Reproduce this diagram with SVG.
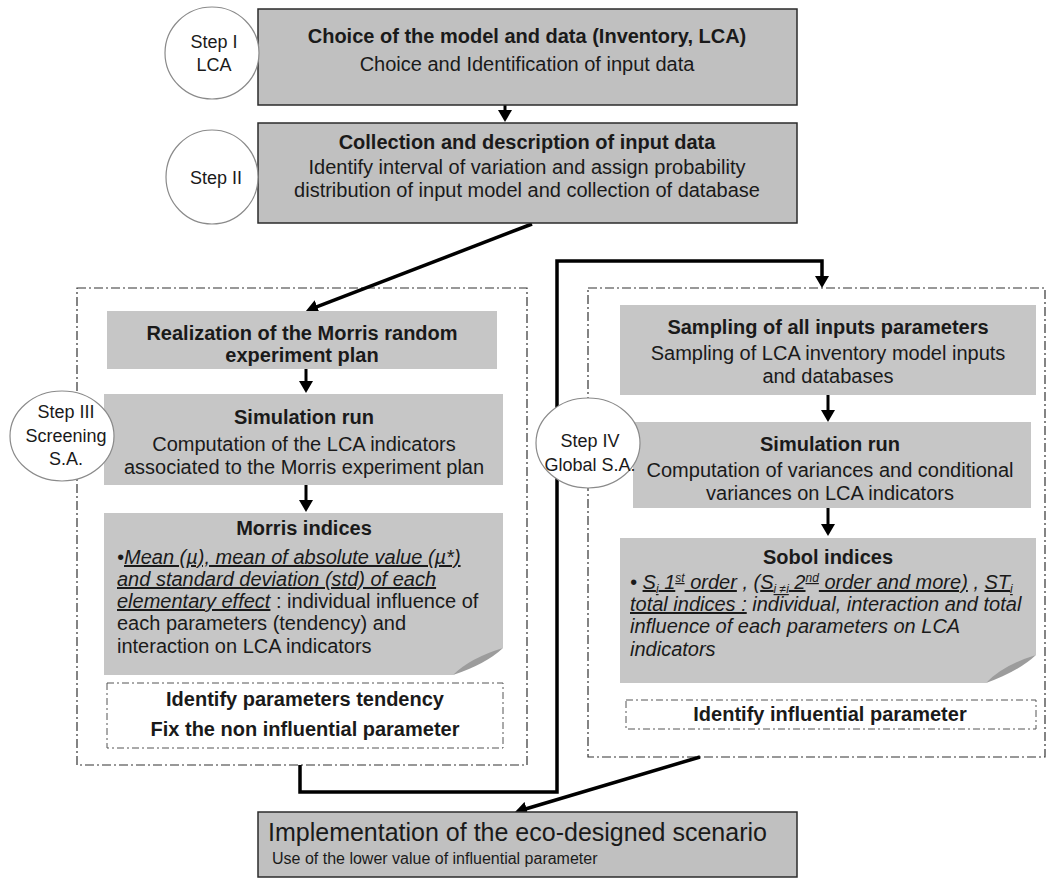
<svg xmlns="http://www.w3.org/2000/svg" width="1055" height="883" viewBox="0 0 1055 883">
<style>
.t{font-family:"Liberation Sans",Arial,sans-serif;fill:#1a1a1a;font-size:20px}
.s{font-size:18px}
.b{font-weight:bold}
.c{text-anchor:middle}
.i{font-style:italic}
.u{text-decoration:underline}
.box{fill:#c0c0c0;stroke:#2b2b2b;stroke-width:1.5}
.pb{fill:#c6c6c6}
.fold{fill:#9c9c9c}
.circ{fill:#fff;stroke:#8a8a8a;stroke-width:1.2}
.panel{fill:#fff;stroke:#333;stroke-width:1.2;stroke-dasharray:9 3 2 3}
.ibox{fill:#fff;stroke:#555;stroke-width:1;stroke-dasharray:7 3 2 3}
.conn{fill:none;stroke:#000;stroke-width:3.5}
.thin{fill:none;stroke:#000;stroke-width:3}
</style>
<defs>
<marker id="ah" markerUnits="userSpaceOnUse" markerWidth="14" markerHeight="14" refX="2" refY="7" orient="auto"><path d="M0,0 L12,7 L0,14 Z" fill="#000"/></marker>
</defs>

<g id="panel-left"><rect class="panel" x="77" y="288" width="450" height="477"/></g>
<g id="panel-right"><rect class="panel" x="588" y="288" width="457" height="469"/></g>

<g id="connectors">
<line class="thin" x1="505" y1="105" x2="505" y2="112" marker-end="url(#ah)"/>
<line class="conn" x1="532" y1="224" x2="315.3" y2="307.4" marker-end="url(#ah)"/>
<line class="thin" x1="306" y1="369" x2="306" y2="383" marker-end="url(#ah)"/>
<line class="thin" x1="306" y1="485" x2="306" y2="502" marker-end="url(#ah)"/>
<polyline class="conn" points="300,765 300,792 557,792 557,261 822,261 822,278" marker-end="url(#ah)"/>
<line class="thin" x1="828" y1="395" x2="828" y2="412" marker-end="url(#ah)"/>
<line class="thin" x1="828" y1="508" x2="828" y2="526" marker-end="url(#ah)"/>
<line class="conn" x1="700" y1="757" x2="524.6" y2="809.2" marker-end="url(#ah)"/>
</g>

<g id="box1">
<rect class="box" x="258" y="9" width="539" height="96"/>
<text class="t b c" x="527" y="43">Choice of the model and data (Inventory, LCA)</text>
<text class="t c" x="527" y="71">Choice and Identification of input data</text>
</g>
<g id="step1">
<ellipse class="circ" cx="212" cy="53" rx="47" ry="46"/>
<text class="t s c" x="214" y="48">Step I</text>
<text class="t s c" x="214" y="71">LCA</text>
</g>

<g id="box2">
<rect class="box" x="258" y="123" width="539" height="100"/>
<text class="t b c" x="527" y="149">Collection and description of input data</text>
<text class="t c" x="527" y="174">Identify interval of variation and assign probability</text>
<text class="t c" x="527" y="197">distribution of input model and collection of database</text>
</g>
<g id="step2">
<ellipse class="circ" cx="212" cy="177" rx="46" ry="47"/>
<text class="t s c" x="216" y="184">Step II</text>
</g>

<g id="realization">
<rect class="pb" x="107" y="311" width="390" height="58"/>
<text class="t b c" x="302" y="340">Realization of the Morris random</text>
<text class="t b c" x="302" y="362">experiment plan</text>
</g>

<g id="sim-left">
<rect class="pb" x="104" y="394" width="399" height="91"/>
<text class="t b c" x="304" y="424">Simulation run</text>
<text class="t c" x="304" y="451">Computation of the LCA indicators</text>
<text class="t c" x="304" y="474">associated to the Morris experiment plan</text>
</g>
<g id="step3">
<ellipse class="circ" cx="62" cy="436" rx="52" ry="45"/>
<text class="t s c" x="66" y="418">Step III</text>
<text class="t s c" x="66" y="442">Screening</text>
<text class="t s c" x="66" y="465">S.A.</text>
</g>

<g id="morris">
<path class="pb" d="M104,513 H503 V648 Q478,661 453,675 H104 Z"/>
<path class="fold" d="M453,675 Q470,658 503,648 Q486,664 453,675 Z"/>
<text class="t b c" x="304" y="535">Morris indices</text>
<text class="t i" x="117" y="564">•<tspan class="u">Mean (µ), mean of absolute value (µ*)</tspan></text>
<text class="t i" x="117" y="586"><tspan class="u">and standard deviation (std) of each</tspan></text>
<text class="t" x="117" y="608"><tspan class="i u">elementary effect</tspan> : individual influence of</text>
<text class="t" x="117" y="630">each parameters (tendency) and</text>
<text class="t" x="117" y="653">interaction on LCA indicators</text>
</g>

<g id="identify-left">
<rect class="ibox" x="107" y="683" width="396" height="65"/>
<text class="t b c" x="305" y="706">Identify parameters tendency</text>
<text class="t b c" x="305" y="736">Fix the non influential parameter</text>
</g>

<g id="sampling">
<rect class="pb" x="620" y="305" width="416" height="90"/>
<text class="t b c" x="828" y="334">Sampling of all inputs parameters</text>
<text class="t c" x="828" y="360">Sampling of LCA inventory model inputs</text>
<text class="t c" x="828" y="383">and databases</text>
</g>

<g id="sim-right">
<rect class="pb" x="633" y="422" width="398" height="86"/>
<text class="t b c" x="830" y="451">Simulation run</text>
<text class="t c" x="830" y="477">Computation of variances and conditional</text>
<text class="t c" x="830" y="500">variances on LCA indicators</text>
</g>
<g id="step4">
<ellipse class="circ" cx="588" cy="443" rx="52" ry="45"/>
<text class="t s c" x="590" y="447">Step IV</text>
<text class="t s c" x="590" y="471">Global S.A.</text>
</g>

<g id="sobol">
<path class="pb" d="M620,538 H1036 V655 Q1010,668 986,683 H620 Z"/>
<path class="fold" d="M986,683 Q1003,665 1036,655 Q1019,671 986,683 Z"/>
<text class="t b c" x="828" y="564">Sobol indices</text>
<text class="t i" x="630" y="589">• <tspan class="u">S<tspan font-size="12" dy="4">i</tspan><tspan dy="-4"> 1</tspan><tspan font-size="12" dy="-7">st</tspan><tspan dy="7"> order</tspan></tspan> , (<tspan class="u">S<tspan font-size="12" dy="4">i ≠i</tspan><tspan dy="-4">  2</tspan><tspan font-size="12" dy="-7">nd</tspan><tspan dy="7"> order and more)</tspan></tspan> , <tspan class="u">ST<tspan font-size="12" dy="4">i</tspan></tspan></text>
<text class="t i" x="630" y="611"><tspan class="u">total indices :</tspan> individual, interaction and total</text>
<text class="t i" x="630" y="633">influence of each parameters on LCA</text>
<text class="t i" x="630" y="656">indicators</text>
</g>

<g id="identify-right">
<rect class="ibox" x="626" y="700" width="410" height="29"/>
<text class="t b c" x="830" y="721">Identify influential parameter</text>
</g>

<g id="implementation">
<rect class="box" x="258" y="812" width="539" height="65"/>
<text class="t" x="268" y="841" style="font-size:25px">Implementation of the eco-designed scenario</text>
<text class="t" x="272" y="864" style="font-size:16px">Use of the lower value of influential parameter</text>
</g>
</svg>
